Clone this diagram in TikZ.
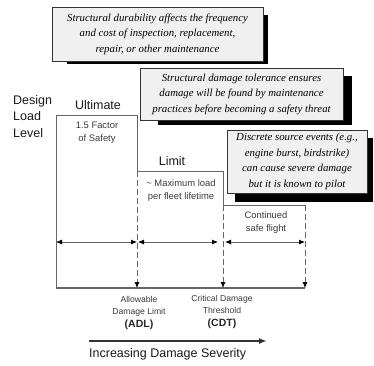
\documentclass[tikz,border=0pt]{standalone}
\usepackage{fontspec}
\setmainfont{Liberation Serif}
\setsansfont{Liberation Sans}
\usetikzlibrary{arrows.meta}
\definecolor{boxfill}{HTML}{F0F0F0}
\definecolor{linegray}{HTML}{666666}
\definecolor{labelgray}{HTML}{3A3A3A}
\begin{document}
\begin{tikzpicture}[x=1pt,y=-1pt,
  note/.style={draw=black!80, line width=0.7pt, fill=boxfill, inner sep=0pt, align=center,
    font=\fontsize{10.8}{15.5}\selectfont\itshape},
  shadowbox/.style={fill=black},
  big/.style={font=\sffamily\fontsize{12.5}{16.5}\selectfont, text=black!90, inner sep=0pt},
  small/.style={font=\sffamily\fontsize{8.6}{12.5}\selectfont, text=labelgray, inner sep=0pt, align=center},
  inlabel/.style={small, font=\sffamily\fontsize{9.4}{13}\selectfont},
  frame/.style={draw=linegray, line width=0.8pt},
  dline/.style={draw=linegray, line width=0.8pt, dash pattern=on 6pt off 3pt},
  dimarrow/.style={draw=linegray, line width=0.8pt, {Latex[length=6pt,width=5pt,color=black]}-{Latex[length=6pt,width=5pt,color=black]}},
  downarrow/.style={dline, -{Latex[length=6pt,width=5pt,color=black]}}
]
\useasboundingbox (0,0) rectangle (374,365);

% shadows
\fill[shadowbox] (67,15) rectangle (268,64);
\fill[shadowbox] (158,76) rectangle (352,125);
\fill[shadowbox] (235,138) rectangle (373,202);

% note boxes
\node[note, minimum width=211pt, minimum height=54pt] (n1) at (157.5,34)
  {Structural durability affects the frequency\\and cost of inspection, replacement,\\repair, or other maintenance};
\node[note, minimum width=203pt, minimum height=52pt] (n2) at (241.5,94)
  {Structural damage tolerance ensures\\damage will be found by maintenance\\practices before becoming a safety threat};
\node[note, minimum width=140pt, minimum height=63pt] (n3) at (297,161.5)
  {Discrete source events (e.g.,\\engine burst, birdstrike)\\can cause severe damage\\but it is known to pilot};

% coordinates of the frame
\coordinate (o) at (56,288);
\coordinate (ut) at (56,115);
\coordinate (ur) at (137,115);
\coordinate (lt) at (137,171);
\coordinate (lr) at (223,171);
\coordinate (ct) at (223,205);
\coordinate (cr) at (305,205);
\coordinate (adl) at (137,288);
\coordinate (cdt) at (223,288);
\coordinate (end) at (305,288);

% frame lines
\draw[frame] (o) -- (ut) -- (ur) -- (lt) -- (lr) -- (ct) -- (cr);
\draw[frame, line width=1.2pt] (o) -- (end);
\draw[downarrow] (lt) -- (adl);
\draw[downarrow] (ct) -- (cdt);
\draw[downarrow] (cr) -- (end);

% dimension arrows
\coordinate (d1a) at (56,242);
\coordinate (d1b) at (137,242);
\coordinate (d2a) at (138,242);
\coordinate (d2b) at (218,242);
\coordinate (d3a) at (225,242);
\coordinate (d3b) at (305,242);
\draw[dimarrow] (d1a) -- (d1b);
\draw[dimarrow] (d2a) -- (d2b);
\draw[dimarrow] (d3a) -- (d3b);

% labels (base anchor = baseline of the last line)
\node[big, anchor=base west, align=left] (dll) at (13,137) {Design\\Load\\Level};
\node[big, anchor=base] (ult) at (98,109) {Ultimate};
\node[big, anchor=base] (lim) at (172,165) {Limit};
\node[inlabel, anchor=base] (fos) at (97,141) {1.5 Factor\\of Safety};
\node[inlabel, anchor=base] (maxl) at (181,199) {\textasciitilde\ Maximum load\\per fleet lifetime};
\node[inlabel, anchor=base] (csf) at (266,231) {Continued\\safe flight};
\node[small, anchor=base] (adlt) at (139,327) {Allowable\\Damage Limit\\{\fontsize{10.5}{14}\selectfont\bfseries\color{black!85}(ADL)}};
\node[small, anchor=base] (cdtt) at (222,326) {Critical Damage\\Threshold\\{\fontsize{10.5}{14}\selectfont\bfseries\color{black!85}(CDT)}};

% severity arrow
\coordinate (sa) at (89,341);
\coordinate (sb) at (267,341);
\draw[line width=1.6pt, black!80, -{Latex[length=8pt,width=6pt]}] (sa) -- (sb);
\node[big, anchor=base west] (sev) at (89,357) {Increasing Damage Severity};
\end{tikzpicture}
\end{document}
